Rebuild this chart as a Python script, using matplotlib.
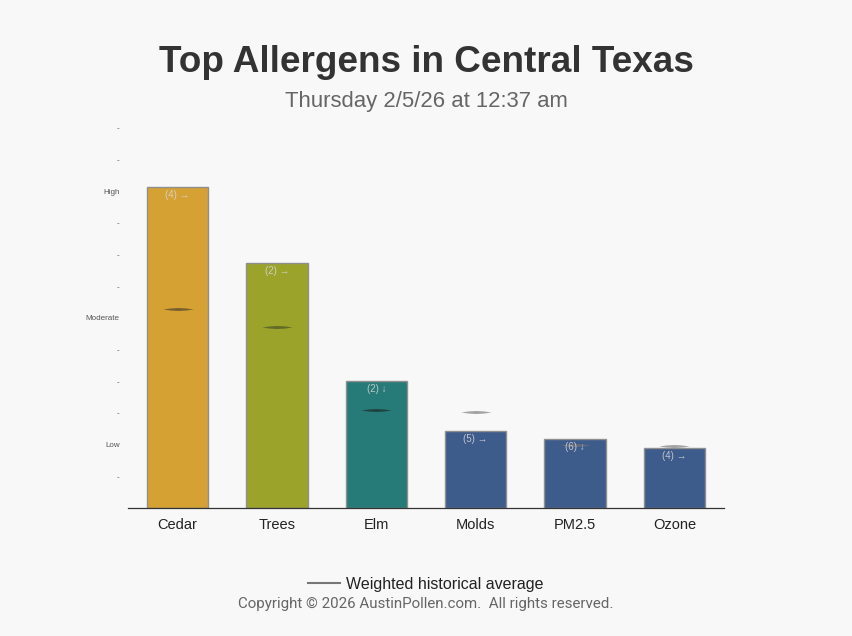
import matplotlib
matplotlib.use("Agg")
import matplotlib.pyplot as plt
from matplotlib.path import Path
import numpy as np

categories = ["Cedar", "Trees", "Elm", "Molds", "PM2.5", "Ozone"]
levels = [10.15, 7.75, 4.02, 2.44, 2.18, 1.90]
averages = [6.27, 5.73, 3.10, 3.04, 1.99, 1.96]
bar_labels = ["(4) \u2192", "(2) \u2192", "(2) \u2193", "(5) \u2192", "(6) \u2193", "(4) \u2192"]
colors = ["#d5a133", "#9ba32b", "#267a78", "#3d5b8b", "#3d5b8b", "#3d5b8b"]
avg_colors = ["#6e5a2c", "#5c6428", "#1e3e3c", "#9a9a9a", "#6a6f7a", "#9a9a9a"]
ytick_vals = list(range(1, 13))
ytick_labels = ["-", "Low", "-", "-", "-", "Moderate", "-", "-", "-", "High", "-", "-"]

plt.rcParams['font.family'] = ['Liberation Sans', 'DejaVu Sans']
bg = "#f8f8f8"
fig = plt.figure(figsize=(8.52, 6.36), dpi=100, facecolor=bg)
ax = fig.add_axes([128/852, 1-508/636, 596/852, 380/636])
ax.set_facecolor(bg)

x = np.arange(len(categories))
ax.bar(x, levels, width=0.62, color=colors, edgecolor="#8f8f8f", linewidth=1.0, zorder=2)

lens = Path([(-1, 0), (-0.5, 0.07), (0, 0.1), (0.5, 0.07), (1, 0), (0.5, -0.07), (0, -0.1), (-0.5, -0.07), (-1, 0)],
            [Path.MOVETO] + [Path.LINETO]*7 + [Path.CLOSEPOLY])
for xi, a, c in zip(x, averages, avg_colors):
    ax.scatter([xi], [a], marker=lens, s=480, color=c, linewidths=0, zorder=4, alpha=0.9)

for xi, v, lab in zip(x, levels, bar_labels):
    ax.text(xi, v - 0.1, lab, ha="center", va="top", fontsize=7, color="#d8d8d8", alpha=0.85, zorder=5)

ax.set_xlim(-0.5, len(categories) - 0.5)
ax.set_ylim(0, 12)
ax.set_yticks(ytick_vals)
ax.set_yticklabels(ytick_labels, fontsize=5.8, color="#555555")
ax.tick_params(axis="y", length=0, pad=6)
ax.set_xticks(x)
ax.set_xticklabels(categories, fontsize=10.5, color="#222222")
ax.tick_params(axis="x", length=0, pad=7)
for s in ["top", "right", "left"]:
    ax.spines[s].set_visible(False)
ax.spines["bottom"].set_color("#333333")
ax.spines["bottom"].set_linewidth(0.9)

fig.text(426/852, 1-63/636, "Top Allergens in Central Texas", ha="center", va="center",
         fontsize=26.6, fontweight="bold", color="#333333")
fig.text(426/852, 1-102/636, "Thursday 2/5/26 at 12:37 am", ha="center", va="center",
         fontsize=15.9, color="#666666")

# legend
fig.add_artist(plt.Line2D([308/852, 340/852], [1-583/636, 1-583/636], color="#777777", linewidth=1.5))
fig.text(346/852, 1-584/636, "Weighted historical average", ha="left", va="center",
         fontsize=11.5, color="#222222")
fig.text(426/852, 1-604/636, "Copyright \u00a9 2026 AustinPollen.com.  All rights reserved.",
         ha="center", va="center", fontsize=10.9, color="#666666", family=["Roboto", "DejaVu Sans"])

fig.savefig("out.png", dpi=100, facecolor=bg)
